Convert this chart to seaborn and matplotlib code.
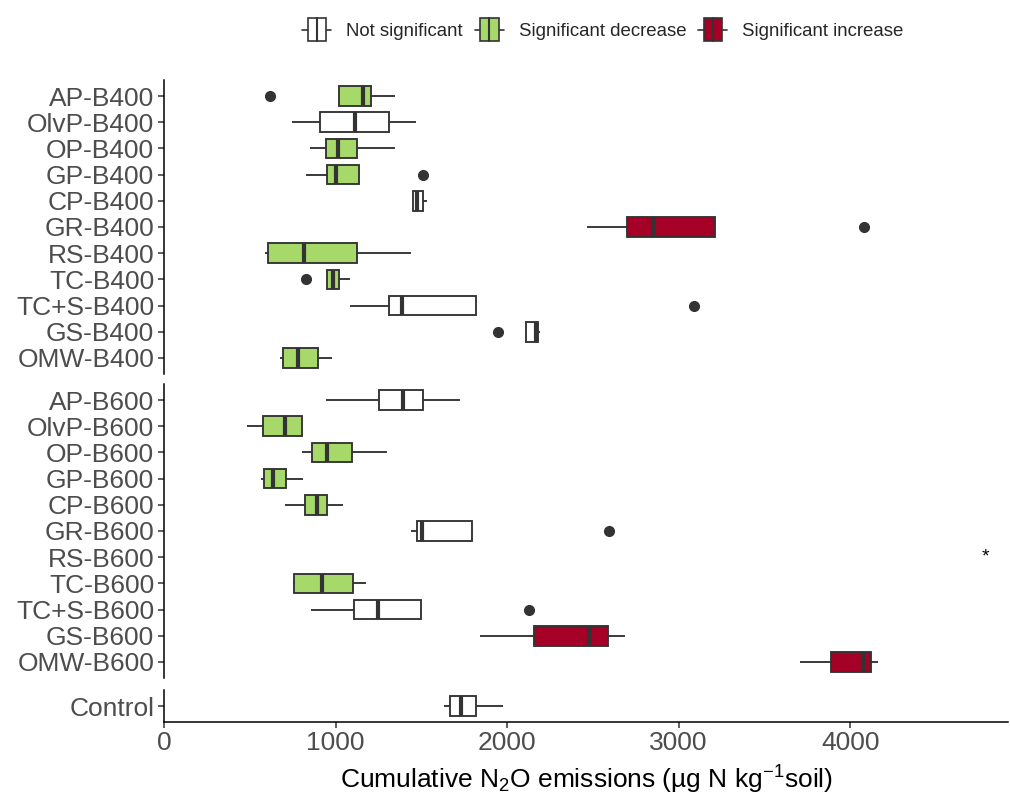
import pandas as pd
import matplotlib
matplotlib.use("Agg")
import matplotlib.pyplot as plt
import seaborn as sns
from matplotlib.patches import Patch, Rectangle
from matplotlib.lines import Line2D
from matplotlib.legend_handler import HandlerBase

# replicate values (min/outlier, q1, median, q3, max/outlier)
b400_treat = ["AP-B400", "OlvP-B400", "OP-B400", "GP-B400", "CP-B400", "GR-B400",
              "RS-B400", "TC-B400", "TC+S-B400", "GS-B400", "OMW-B400"]
b400_obs = [[616, 1019, 1160, 1209, 1349],
            [747, 908, 1115, 1314, 1470],
            [852, 942, 1014, 1125, 1349],
            [830, 951, 1004, 1137, 1509],
            [1450, 1450, 1477, 1509, 1534],
            [2464, 2698, 2850, 3213, 4078],
            [591, 606, 817, 1127, 1439],
            [830, 949, 988, 1018, 1084],
            [1084, 1310, 1388, 1817, 3091],
            [1949, 2113, 2170, 2183, 2193],
            [678, 694, 784, 899, 978]]
b400_effect = ["dec", "ns", "dec", "dec", "ns", "inc", "dec", "dec", "ns", "ns", "dec"]

b600_treat = ["AP-B600", "OlvP-B600", "OP-B600", "GP-B600", "CP-B600", "GR-B600",
              "RS-B600", "TC-B600", "TC+S-B600", "GS-B600", "OMW-B600"]
b600_obs = [[945, 1253, 1396, 1507, 1723],
            [483, 579, 706, 803, 803],
            [805, 864, 951, 1094, 1298],
            [563, 585, 635, 713, 809],
            [708, 821, 891, 949, 1045],
            [1442, 1474, 1505, 1793, 2596],
            [],
            [752, 760, 920, 1101, 1176],
            [857, 1105, 1245, 1500, 2125],
            [1843, 2154, 2477, 2587, 2689],
            [3708, 3887, 4073, 4122, 4162]]
b600_effect = ["ns", "dec", "dec", "dec", "dec", "ns", "ns", "dec", "ns", "inc", "inc"]

control_treat = ["Control"]
control_obs = [[1631, 1667, 1732, 1821, 1978]]
control_effect = ["ns"]

rs_b600_star_x = 4786

effect_levels = ["ns", "dec", "inc"]
effect_labels = ["Not significant", "Significant decrease", "Significant increase"]
effect_colors = {"ns": "#FFFFFF", "dec": "#A6D96A", "inc": "#A50026"}
edge = "#333333"


def to_long(treat, obs, effect):
    rows = []
    for t, vals, e in zip(treat, obs, effect):
        for v in vals:
            rows.append({"treatment": t, "n2o": v, "effect": e})
    return pd.DataFrame(rows)


class BoxKey(HandlerBase):
    # ggplot-style boxplot key: box, centre line and whisker stubs
    def create_artists(self, legend, orig_handle, xdescent, ydescent,
                       width, height, fontsize, trans):
        x0, y0 = -xdescent, -ydescent
        bw = width * 0.64
        bx = x0 + (width - bw) / 2
        ym = y0 + height / 2
        box = Rectangle((bx, y0), bw, height, facecolor=orig_handle.get_facecolor(),
                        edgecolor=edge, linewidth=1.2, transform=trans)
        wl = Line2D([x0, bx], [ym, ym], color=edge, lw=1.2, transform=trans)
        wr = Line2D([bx + bw, x0 + width], [ym, ym], color=edge, lw=1.2, transform=trans)
        med = Line2D([bx + bw / 2] * 2, [y0, y0 + height], color=edge, lw=1.5, transform=trans)
        return [wl, wr, box, med]


sns.set_theme(style="ticks")
plt.rcParams["font.family"] = ["Liberation Sans", "DejaVu Sans"]
plt.rcParams["mathtext.fontset"] = "custom"
plt.rcParams["mathtext.rm"] = "Liberation Sans"
plt.rcParams["mathtext.it"] = "Liberation Sans:italic"

W, H = 1010, 798
fig = plt.figure(figsize=(W / 100, H / 100), dpi=100)


def px_axes(left, top, width, height):
    return fig.add_axes([left / W, 1 - (top + height) / H, width / W, height / H])


panels = [
    (px_axes(164, 80.3, 844, 293.4), b400_treat, b400_obs, b400_effect),
    (px_axes(164, 384.3, 844, 293.4), b600_treat, b600_obs, b600_effect),
    (px_axes(164, 690.3, 844, 31.4), control_treat, control_obs, control_effect),
]

for i, (ax, treat, obs, effect) in enumerate(panels):
    df = to_long(treat, obs, effect)
    sns.boxplot(data=df, x="n2o", y="treatment", hue="effect", order=treat,
                hue_order=effect_levels, palette=effect_colors, dodge=False,
                saturation=1, width=0.75, linecolor=edge, linewidth=1.35,
                fliersize=7, showcaps=False,
                flierprops=dict(marker="o", markerfacecolor=edge, markeredgecolor=edge),
                medianprops=dict(linewidth=3, color=edge),
                legend=False, ax=ax)
    ax.set_xlim(0, 4920)
    ax.set_ylim(len(treat) - 1 + 0.6, -0.6)
    ax.set_ylabel("")
    ax.set_xlabel("")
    for s in ["top", "right"]:
        ax.spines[s].set_visible(False)
    for s in ["left", "bottom"]:
        ax.spines[s].set_linewidth(1.1)
        ax.spines[s].set_color("black")
    ax.tick_params(axis="y", labelsize=19, labelcolor="#4D4D4D", length=4,
                   width=1.1, color=edge, pad=3)
    ax.set_xticks([0, 1000, 2000, 3000, 4000])
    if i < 2:
        ax.spines["bottom"].set_visible(False)
        ax.tick_params(axis="x", bottom=False, labelbottom=False)
    else:
        ax.tick_params(axis="x", labelsize=19, labelcolor="#4D4D4D", length=4,
                       width=1.1, color=edge, pad=3)
        ax.set_xlabel("Cumulative N$_2$O emissions (µg N kg$^{-1}$soil)",
                      fontsize=19, color="black", labelpad=6)

ax_b600 = panels[1][0]
ax_b600.text(rs_b600_star_x, b600_treat.index("RS-B600"), "*", ha="center",
             va="center", fontsize=14, color="black")

handles = [Patch(facecolor=effect_colors[k], edgecolor=edge, label=l)
           for k, l in zip(effect_levels, effect_labels)]
fig.legend(handles=handles, handler_map={Patch: BoxKey()}, loc="center",
           bbox_to_anchor=(0.597, 0.963), ncol=3, frameon=False, fontsize=13.4,
           handlelength=1.55, handleheight=1.45, handletextpad=0.8, columnspacing=0.65)

fig.savefig("out.png", dpi=100)
